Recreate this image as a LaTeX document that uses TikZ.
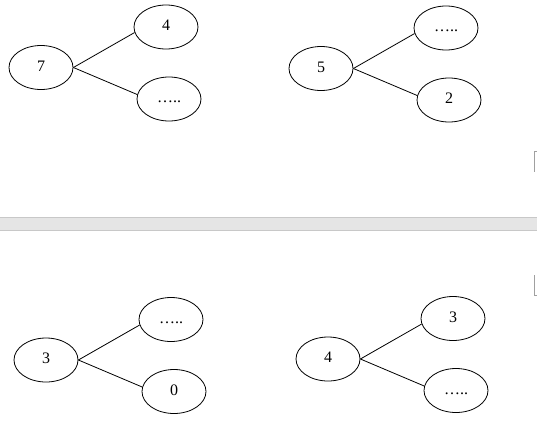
\documentclass[tikz,border=0pt]{standalone}
\usepackage{fontspec}
\setmainfont{Liberation Serif}
\usetikzlibrary{shapes.geometric}
\definecolor{bandgrey}{HTML}{E5E5E5}
\definecolor{edgegrey}{HTML}{C8C8C8}
\definecolor{markgrey}{HTML}{A0A0A0}
\tikzset{
    num/.style={draw,ellipse,line width=0.8pt,minimum width=64pt,minimum height=44pt,inner sep=0pt,
        text height=10.5pt,text depth=3pt,font=\fontsize{16}{19}\selectfont},
    branch/.style={line width=0.8pt}
}
\begin{document}
\begin{tikzpicture}[x=1pt,y=-1pt]
    \useasboundingbox (0,0) rectangle (537,434);
    % Page break band
        \fill[bandgrey] (0,217) rectangle (537,230.5);
        \draw[edgegrey,line width=1pt] (0,217) -- (537,217) (0,230.5) -- (537,230.5);
    % Margin marks
        \draw[markgrey,line width=0.8pt] (537,151) -- (534,151) -- (534,172);
        \draw[markgrey,line width=0.8pt] (534,275) -- (534,295) -- (537,295);
    % Trees
        \foreach \i/\px/\py/\r/\a/\b in {tl/41/67.5/7/4/{…..},tr/321/68.5/5/{…..}/2,bl/46/360/3/{…..}/0,br/328/359/4/3/{…..}}{
            \node[num] (root\i) at (\px,\py) {\r};
            \node[num] (up\i) at (\px+125,\py-40.5) {\a};
            \node[num] (low\i) at (\px+128,\py+31.5) {\b};
            \draw[branch] (root\i.east) -- (up\i.190);
            \draw[branch] (root\i.east) -- (low\i.172);
        }
\end{tikzpicture}
\end{document}
